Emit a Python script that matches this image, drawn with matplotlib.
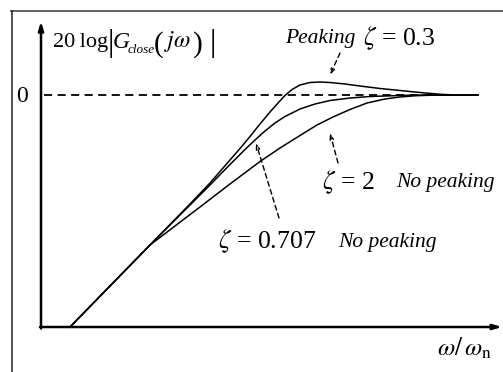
import matplotlib
matplotlib.use("Agg")
import matplotlib.pyplot as plt
from matplotlib.lines import Line2D

plt.rcParams["mathtext.fontset"] = "stix"
plt.rcParams["font.family"] = ["Liberation Serif", "DejaVu Serif"]

# Normalised frequency log10(w/wn) and closed-loop magnitude in dB
x_zeta_03 = [-2.25, -1.45, -1.25, -1.05, -0.85, -0.65, -0.55, -0.45, -0.35, -0.25, -0.17,
             -0.10, -0.03, 0.05, 0.15, 0.25, 0.35, 0.50, 0.65, 0.85, 1.05, 1.25, 1.45, 1.60, 1.83]
y_zeta_03 = [-92.8, -60.0, -51.8, -43.6, -35.2, -26.0, -21.4, -16.6, -11.6, -6.8, -3.2,
             -0.2, 2.2, 4.0, 5.0, 5.2, 5.0, 4.4, 3.6, 2.6, 1.8, 1.0, 0.3, 0.0, 0.0]

x_zeta_0707 = [-2.25, -1.45, -1.25, -1.05, -0.85, -0.65, -0.50, -0.40, -0.30, -0.20, -0.10,
               0.05, 0.20, 0.35, 0.55, 0.75, 1.05, 1.35, 1.83]
y_zeta_0707 = [-92.8, -60.0, -52.0, -44.0, -36.0, -27.8, -21.8, -18.0, -14.4, -11.2, -8.6,
               -5.6, -3.6, -2.2, -1.2, -0.6, -0.2, 0.0, 0.0]

x_zeta_2 = [-2.25, -1.45, -1.20, -0.95, -0.65, -0.35, -0.15, 0.05, 0.22, 0.38, 0.55,
            0.72, 0.90, 1.05, 1.20, 1.35, 1.83]
y_zeta_2 = [-92.8, -60.0, -52.4, -44.8, -35.6, -26.6, -21.2, -16.2, -12.0, -8.8, -5.8,
            -3.2, -1.6, -0.8, -0.3, -0.1, 0.0]

zero_level = 0.0

W, H = 503, 372
fig = plt.figure(figsize=(W / 100, H / 100), dpi=100)
ax = fig.add_axes([0, 0, 1, 1])
ax.set_xlim(-2.95, 2.08)
ax.set_ylim(-110.8, 38.0)
ax.axis("off")


def fpos(px, py):
    """Pixel position (from top-left) -> figure fraction."""
    return px / W, 1 - py / H


# outer frame (top and left edges)
fig.add_artist(Line2D([11 / W, 1], [1 - 10.5 / H, 1 - 10.5 / H],
                      transform=fig.transFigure, color="#555555", lw=1.3))
fig.add_artist(Line2D([11.5 / W, 11.5 / W], [0, 1 - 10.5 / H],
                      transform=fig.transFigure, color="#222222", lw=1.1))

# axes with arrow heads
x0, y0 = -2.54, -92.8
ax.annotate("", xy=(x0, 29.5), xytext=(x0, y0 - 0.6),
            arrowprops=dict(arrowstyle="-|>,head_length=0.5,head_width=0.15",
                            lw=1.8, color="black", shrinkA=0, shrinkB=0))
ax.annotate("", xy=(2.07, y0), xytext=(x0 - 0.01, y0),
            arrowprops=dict(arrowstyle="-|>,head_length=0.5,head_width=0.15",
                            lw=1.8, color="black", shrinkA=0, shrinkB=0))

# 0 dB reference
ax.plot([-2.51, 1.40], [zero_level, zero_level], color="black", lw=1.3,
        ls=(0, (4.5, 3.0)))

for xs, ys in [(x_zeta_03, y_zeta_03), (x_zeta_0707, y_zeta_0707), (x_zeta_2, y_zeta_2)]:
    ax.plot(xs, ys, color="black", lw=1.1, solid_joinstyle="round")

fs = 16
fz = 18.5

# y-axis label: 20 log |G_close(jw)|
fig.text(*fpos(53, 47.5), "20\u2009log", fontsize=fs, va="baseline", ha="left")
fig.text(*fpos(110.5, 44), "|", fontsize=23, va="center", ha="center")
fig.text(*fpos(113, 47.5), "G", fontsize=fs + 1, style="italic", va="baseline", ha="left")
fig.text(*fpos(128, 53), "close", fontsize=9.5, style="italic", va="baseline", ha="left")
fig.text(*fpos(159, 45), "(", fontsize=21, va="center", ha="center")
fig.text(*fpos(164, 47.5), r"$j\omega$", fontsize=17, va="baseline", ha="left")
fig.text(*fpos(198, 45), ")", fontsize=21, va="center", ha="center")
fig.text(*fpos(213, 44), "|", fontsize=23, va="center", ha="center")

fig.text(*fpos(22, 96), "0", fontsize=fs + 1, va="center", ha="center")

fig.text(*fpos(285, 38), "Peaking", fontsize=15.5, style="italic", va="center", ha="left")
fig.text(*fpos(363, 38), r"$\zeta$ = 0.3", fontsize=fz, va="center", ha="left")

fig.text(*fpos(322, 182), r"$\zeta$ = 2", fontsize=fz, va="center", ha="left")
fig.text(*fpos(396, 183), "No peaking", fontsize=15.5, style="italic", va="center", ha="left")

fig.text(*fpos(218, 241), r"$\zeta$ = 0.707", fontsize=fz, va="center", ha="left")
fig.text(*fpos(338, 242), "No peaking", fontsize=15.5, style="italic", va="center", ha="left")

fig.text(*fpos(437, 348), r"$\omega/\,\omega_{\mathrm{n}}$", fontsize=18, va="center", ha="left")

# dashed pointers to the curves
arrow_kw = dict(arrowstyle="->,head_length=0.35,head_width=0.12", lw=1.0,
                ls=(0, (3.5, 2.5)), color="black", shrinkA=0, shrinkB=0)
ax.annotate("", xy=(0.35, 8.0), xytext=(0.45, 16.8), arrowprops=arrow_kw)
ax.annotate("", xy=(0.35, -15.2), xytext=(0.43, -27.2), arrowprops=arrow_kw)
ax.annotate("", xy=(-0.39, -19.2), xytext=(-0.16, -49.2), arrowprops=arrow_kw)

fig.savefig("out.png", dpi=100)
